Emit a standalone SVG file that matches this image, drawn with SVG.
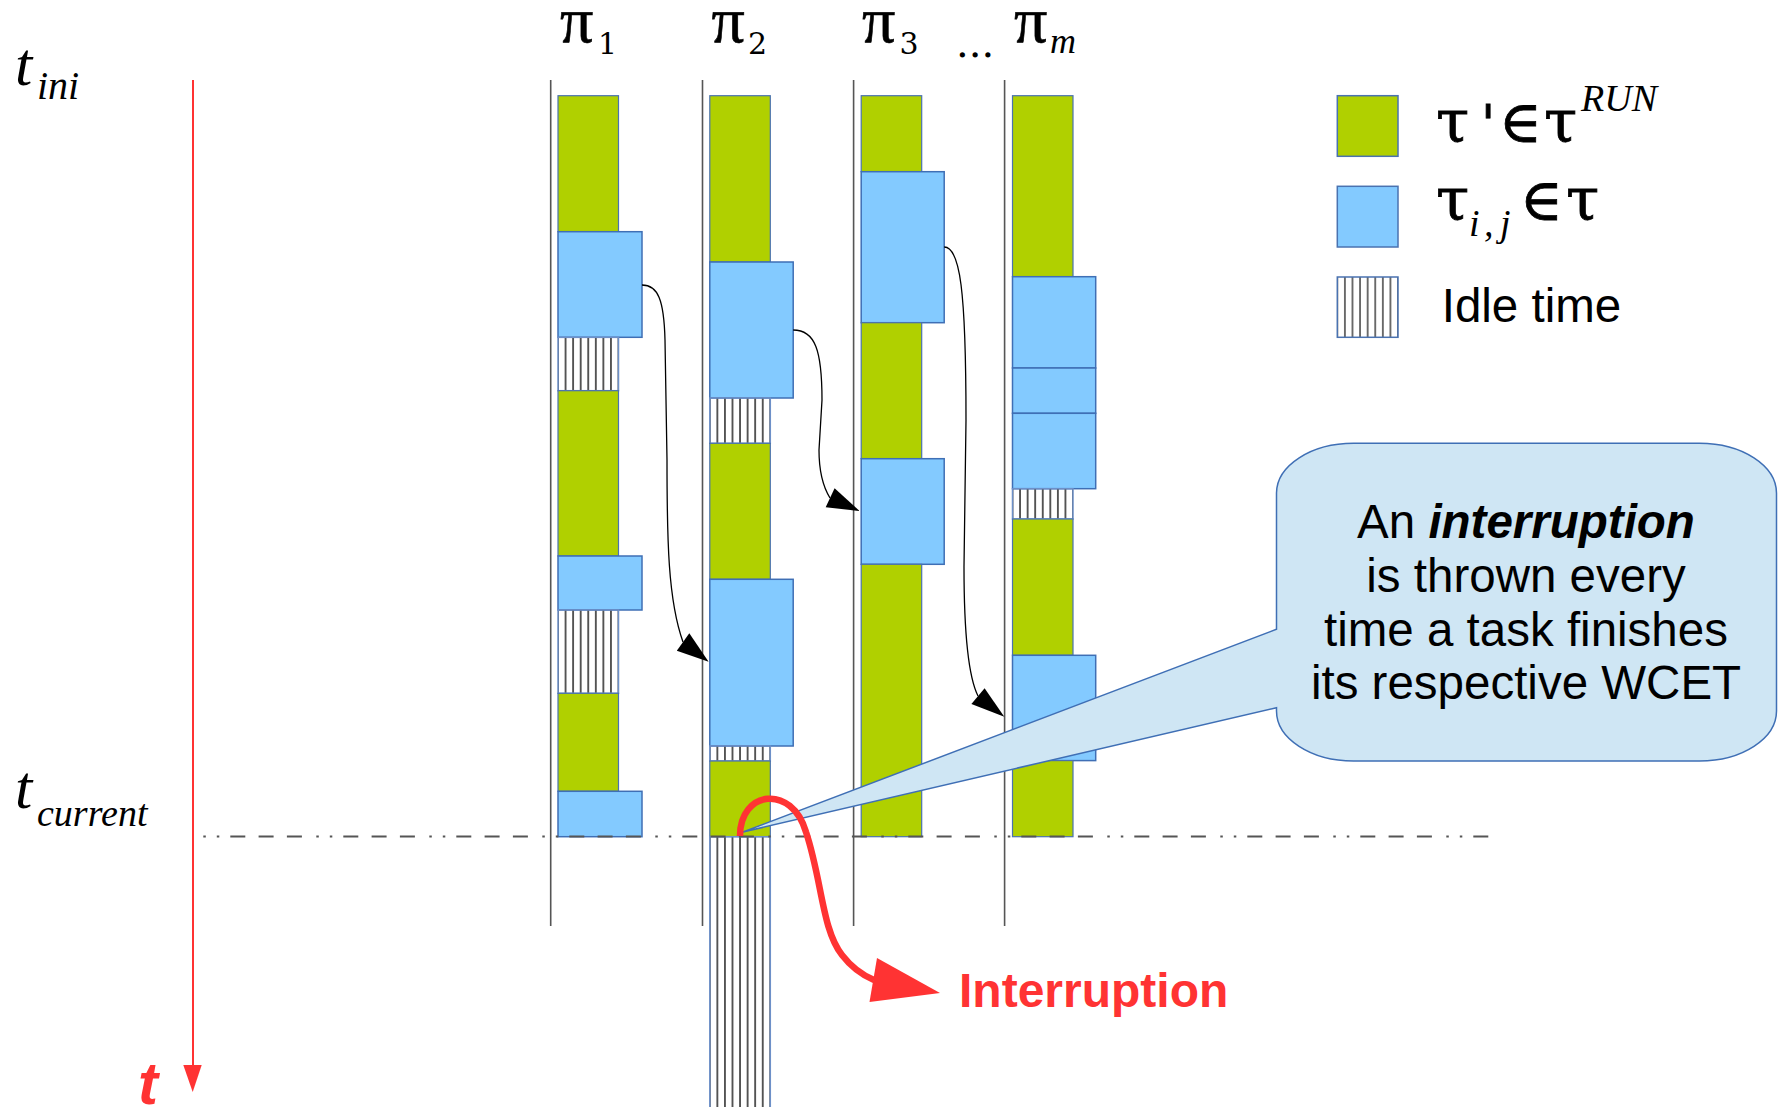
<svg xmlns="http://www.w3.org/2000/svg" width="1780" height="1107" viewBox="0 0 1780 1107">
<style>
.g{fill:#b0d000;stroke:#4a72b0;stroke-width:1.2}
.b{fill:#83caff;stroke:#3f6fb5;stroke-width:1.5}
.vl{stroke:#555;stroke-width:1.6;fill:none}
.con{stroke:#000;stroke-width:1.3;fill:none}
.ah{fill:#000}
.m{font-family:"DejaVu Serif",serif;fill:#000;stroke:#000;stroke-width:0.8}
.p{font-family:"Liberation Serif",serif;fill:#000;stroke:#000;stroke-width:0.6}
.d{font-family:"DejaVu Serif",serif;fill:#000}
.mi{font-family:"Liberation Serif",serif;font-style:italic;fill:#000}
.s{font-family:"Liberation Sans",sans-serif;fill:#000}
</style>
<defs>
<pattern id="h1" patternUnits="userSpaceOnUse" x="558" y="0" width="7.5625" height="20"><rect x="-0.8" y="0" width="1.6" height="20" fill="#333"/><rect x="6.76" y="0" width="1.6" height="20" fill="#333"/></pattern>
<pattern id="h2" href="#h1" x="709.8"/>
<pattern id="h4" href="#h1" x="1012.5"/>
<pattern id="hL" patternUnits="userSpaceOnUse" x="1337.3" y="0" width="7.59" height="20"><rect x="-0.7" y="0" width="1.4" height="20" fill="#333"/><rect x="6.89" y="0" width="1.4" height="20" fill="#333"/></pattern>
</defs>
<rect width="1780" height="1107" fill="#fff"/>

<g id="time-axis">
<line x1="193" y1="80" x2="193" y2="1067" stroke="#ff3333" stroke-width="2"/>
<polygon points="183.3,1065 201.7,1065 192.7,1092" fill="#ff3333"/>
<text x="138" y="1104" font-family="Liberation Sans,sans-serif" font-weight="bold" font-style="italic" font-size="60" fill="#ff3333">t</text>
</g>
<g id="t-ini"><text class="mi" x="15" y="85" font-size="62">t</text><text class="mi" x="37" y="99" font-size="40">ini</text></g>
<g id="t-current"><text class="mi" x="15" y="808" font-size="62">t</text><text class="mi" x="37" y="826" font-size="38">current</text></g>

<g id="proc-labels">
<text class="p" x="560" y="42" font-size="66">π</text><text class="d" x="598" y="54" font-size="30">1</text>
<text class="p" x="711.5" y="42" font-size="66">π</text><text class="d" x="748" y="54" font-size="30">2</text>
<text class="p" x="862" y="42" font-size="66">π</text><text class="d" x="899.5" y="54" font-size="30">3</text>
<text class="d" x="956" y="57" font-size="40">...</text>
<text class="p" x="1014" y="42" font-size="66">π</text><text class="mi" x="1050" y="53" font-size="36">m</text>
</g>

<g id="proc-lines">
<line class="vl" x1="550.7" y1="80" x2="550.7" y2="926"/>
<line class="vl" x1="702.5" y1="80" x2="702.5" y2="926"/>
<line class="vl" x1="853.6" y1="80" x2="853.6" y2="926"/>
<line class="vl" x1="1004.6" y1="80" x2="1004.6" y2="926"/>
</g>

<g id="pi1">
<rect class="g" x="558" y="95.7" width="60.5" height="136"/>
<rect class="b" x="558" y="231.7" width="84" height="105.6"/>
<rect x="558" y="337.3" width="60.5" height="53.4" fill="url(#h1)" stroke="#6d90c8" stroke-width="1.5"/>
<rect class="g" x="558" y="390.7" width="60.5" height="165.3"/>
<rect class="b" x="558" y="556" width="84" height="54"/>
<rect x="558" y="610" width="60.5" height="83.3" fill="url(#h1)" stroke="#6d90c8" stroke-width="1.5"/>
<rect class="g" x="558" y="693.3" width="60.5" height="98"/>
<rect class="b" x="558" y="791.3" width="84" height="45.4"/>
</g>
<g id="pi2">
<rect class="g" x="709.8" y="95.7" width="60.5" height="166.3"/>
<rect class="b" x="709.8" y="262" width="83.4" height="136"/>
<rect x="709.8" y="398" width="60.5" height="45.3" fill="url(#h2)" stroke="#6d90c8" stroke-width="1.5"/>
<rect class="g" x="709.8" y="443.3" width="60.5" height="136"/>
<rect class="b" x="709.8" y="579.3" width="83.4" height="166.7"/>
<rect x="709.8" y="746" width="60.5" height="15" fill="url(#h2)" stroke="#6d90c8" stroke-width="1.5"/>
<rect class="g" x="709.8" y="761" width="60.5" height="75.7"/>
<rect x="709.8" y="836.7" width="60.5" height="280" fill="url(#h2)" stroke="#6d90c8" stroke-width="1.5"/>
</g>
<g id="pi3">
<rect class="g" x="861.2" y="95.7" width="60.5" height="76"/>
<rect class="b" x="861.2" y="171.7" width="83" height="151"/>
<rect class="g" x="861.2" y="322.7" width="60.5" height="136"/>
<rect class="b" x="861.2" y="458.7" width="83" height="105.6"/>
<rect class="g" x="861.2" y="564.3" width="60.5" height="272.4"/>
</g>
<g id="pim">
<rect class="g" x="1012.5" y="95.7" width="60.5" height="181"/>
<rect class="b" x="1012.5" y="276.7" width="83.2" height="91.3"/>
<rect class="b" x="1012.5" y="368" width="83.2" height="45.3"/>
<rect class="b" x="1012.5" y="413.3" width="83.2" height="75.4"/>
<rect x="1012.5" y="488.7" width="60.5" height="30.3" fill="url(#h4)" stroke="#6d90c8" stroke-width="1.5"/>
<rect class="g" x="1012.5" y="519" width="60.5" height="136.3"/>
<rect class="b" x="1012.5" y="655.3" width="83.2" height="105.3"/>
<rect class="g" x="1012.5" y="760.6" width="60.5" height="76.1"/>
</g>

<g id="connectors">
<path class="con" d="M642,285 C658,285 664,300 665,340 L667,460 C667,540 668,600 683,642"/>
<polygon class="ah" points="708.6,661.7 676.8,650.7 689.3,633.3"/>
<path class="con" d="M793.2,330 C815,330 822,350 822,400 L819,450 C819,470 822,485 830,498"/>
<polygon class="ah" points="859.6,511 825.7,507.3 834.6,488.3"/>
<path class="con" d="M944.2,247 C960,247 966,290 966,420 L964,567 C964,640 970,680 978,696"/>
<polygon class="ah" points="1004.3,716.7 971.4,704 984.6,688.3"/>
</g>

<line id="t-current-line" x1="203.3" y1="836.6" x2="1497" y2="836.6" stroke="#555" stroke-width="2" stroke-dasharray="2.5 11 2.5 11 15 13.3 15 13.3 15 14.4"/>

<g id="callout">
<path d="M743,832 L1276.5,629.3 V493 A77,50 0 0 1 1353.5,443.3 H1699.5 A77,50 0 0 1 1776.5,493.3 V711 A77,50 0 0 1 1699.5,761 H1353.5 A77,50 0 0 1 1276.5,711 V707.7 Z" fill="#cfe6f4" stroke="#3f6fb5" stroke-width="1.5"/>
<text class="s" font-size="47.5" text-anchor="middle"><tspan x="1526" y="538">An <tspan font-weight="bold" font-style="italic">interruption</tspan></tspan><tspan x="1526" y="592">is thrown every</tspan><tspan x="1526" y="646">time a task finishes</tspan><tspan x="1526" y="699">its respective WCET</tspan></text>
</g>

<g id="interruption">
<path d="M740,836 C740,790 792,784 806,832 C822,880 822,930 842,955 C852,968 862,975 874,980" fill="none" stroke="#ff3333" stroke-width="6.5"/>
<polygon points="877,958 940,993 869.5,1002" fill="#ff3333"/>
<text x="959" y="1007" font-family="Liberation Sans,sans-serif" font-weight="bold" font-size="48" fill="#ff3333">Interruption</text>
</g>

<g id="legend">
<rect x="1337.3" y="95.7" width="60.7" height="60.6" fill="#b0d000" stroke="#4a72b0" stroke-width="1.5"/>
<rect x="1337.3" y="186.3" width="60.7" height="60.7" fill="#83caff" stroke="#4a72b0" stroke-width="1.5"/>
<rect x="1337.3" y="277" width="60.7" height="60.3" fill="url(#hL)" stroke="#4a72b0" stroke-width="1.5"/>
<text class="m" x="1436" y="142" font-size="60">τ</text><text class="m" x="1481" y="142" font-size="52">'</text><text class="m" x="1499" y="142" font-size="58">∈</text><text class="m" x="1544" y="142" font-size="60">τ</text>
<text class="mi" x="1581" y="111" font-size="38">RUN</text>
<text class="m" x="1436" y="220" font-size="60">τ</text><text class="mi" x="1469" y="236" font-size="38">i</text><text class="mi" x="1484" y="236" font-size="38">,</text><text class="mi" x="1500" y="236" font-size="38">j</text><text class="m" x="1520" y="220" font-size="58">∈</text><text class="m" x="1566" y="220" font-size="60">τ</text>
<text class="s" x="1441.7" y="322" font-size="47.5">Idle time</text>
</g>
</svg>
